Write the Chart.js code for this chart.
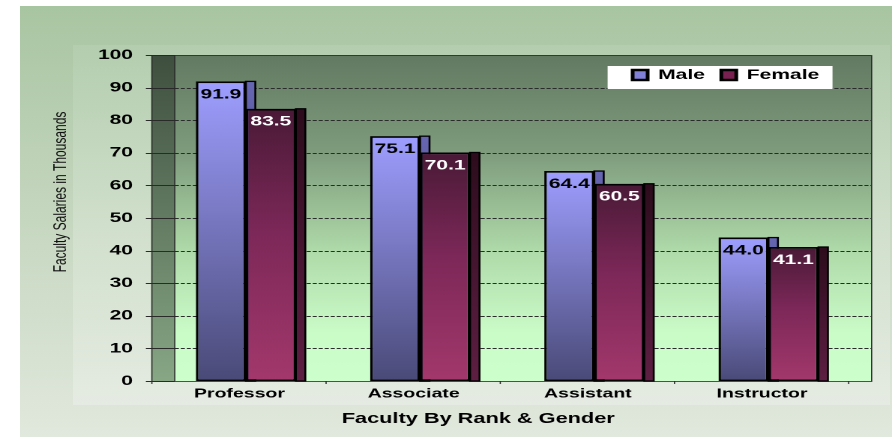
<!DOCTYPE html>
<html>
<head>
<meta charset="utf-8">
<script src="https://cdn.jsdelivr.net/npm/chart.js@4.4.0/dist/chart.umd.min.js"></script>
<style>
  html, body { margin: 0; padding: 0; background: #fff; width: 892px; height: 437px; overflow: hidden; }
  #card { position: absolute; left: 20px; top: 6px; width: 872px; height: 431px;
    background: linear-gradient(to bottom, #a8c5a1 0%, #c6d7c0 50%, #e1e8dd 100%); }
  #panel { position: absolute; left: 73px; top: 45px; width: 817px; height: 360px;
    background: linear-gradient(to bottom, #b3cdae 0%, #d0dfcb 50%, #e5ebe2 100%); }
  /* the original picture is a stretched Excel chart, so the canvas is stretched the same way */
  #chart { position: absolute; left: 0; top: 0; transform: scaleX(1.49916); transform-origin: 0 0; }
</style>
</head>
<body>
<div id="card"></div>
<div id="panel"></div>
<canvas id="chart" width="595" height="437"></canvas>
<script>
const ranks = ['Professor', 'Associate', 'Assistant', 'Instructor'];
const maleSalaries = [91.9, 75.1, 64.4, 44.0];
const femaleSalaries = [83.5, 70.1, 60.5, 41.1];
const seriesNames = ['Male', 'Female'];
const yTitle = 'Faculty Salaries in Thousands';
const xTitle = 'Faculty By Rank & Gender';

const FONT = "'Liberation Sans', Arial, sans-serif";
Chart.defaults.font.family = FONT;

// colour stops, top of bar -> bottom of bar
const maleStops = [[0, '#9e9eff'], [1, '#4a4a78']];
const femaleStops = [[0, '#4a1a37'], [0.45, '#7c2858'], [1, '#a3386c']];
const maleSideStops = [[0, '#6666b3'], [1, '#30305a']];
const femaleSideStops = [[0, '#2d0c1d'], [1, '#5e1f43']];
const legendFill = ['#8080d8', '#7a2050'];
const labelColor = ['#000', '#fff'];

const DEPTH = 15.3;   // depth of the 3d walls (canvas px)
const FRONT = 4.6;    // front edge of the floor sits left of the category grid
const SIDE = 6.3;     // width of the side face of each bar

function vGrad(ctx, top, bottom, stops) {
    const g = ctx.createLinearGradient(0, top, 0, bottom);
    stops.forEach(([o, c]) => g.addColorStop(o, c));
    return g;
}

function barFill(stops) {
    return c => {
        const chart = c.chart;
        if (!chart.chartArea || c.type !== 'data') return stops[stops.length - 1][1];
        const y = chart.scales.y;
        const top = y.getPixelForValue(chart.data.datasets[c.datasetIndex].data[c.dataIndex]);
        return vGrad(chart.ctx, top, y.getPixelForValue(0), stops);
    };
}

const walls = {
    id: 'walls',
    afterLayout(chart) {
        // legend sits inside the plot, top right
        const lg = chart.legend;
        lg.left = 411; lg.right = 611; lg.top = 57; lg.bottom = 117;
        lg.width = 200; lg.height = 60;
    },
    beforeDraw(chart) {
        const {ctx, chartArea: a, scales: {x, y}} = chart;
        const fl = a.left - FRONT, fr = a.right - FRONT;
        const bl = fl + DEPTH, br = fr + DEPTH;
        const h = a.bottom - a.top;
        ctx.save();
        ctx.fillStyle = vGrad(ctx, a.top, a.bottom,
            [[0, '#627a62'], [0.3, '#7f9c7d'], [0.6, '#afdaa9'], [0.85, '#cafcc8'], [1, '#ccffcc']]);
        ctx.fillRect(bl, a.top, br - bl, h);
        ctx.fillStyle = vGrad(ctx, a.top, a.bottom, [[0, '#3f4f3f'], [1, '#87a785']]);
        ctx.fillRect(fl, a.top, DEPTH, h);

        ctx.strokeStyle = '#2a2a2a';
        ctx.lineWidth = 1;
        y.ticks.forEach(t => {
            const py = Math.round(y.getPixelForValue(t.value)) + 0.5;
            ctx.setLineDash([]);
            ctx.beginPath(); ctx.moveTo(fl - 4, py); ctx.lineTo(bl, py); ctx.stroke();
            if (t.value > y.min && t.value < y.max) {
                ctx.setLineDash([2.7, 1.3]);
                ctx.beginPath(); ctx.moveTo(bl, py); ctx.lineTo(br, py); ctx.stroke();
            }
        });
        ctx.setLineDash([]);
        ctx.lineWidth = 0.8;
        ctx.strokeRect(fl, a.top + 0.5, br - fl, h);
        ctx.beginPath(); ctx.moveTo(bl, a.top); ctx.lineTo(bl, a.bottom); ctx.stroke();

        // category tick marks under the floor
        const cw = (a.right - a.left) / ranks.length;
        for (let i = 0; i <= ranks.length; i++) {
            const px = x.getPixelForValue(0) - cw / 2 + i * cw - FRONT;
            ctx.beginPath(); ctx.moveTo(px, a.bottom); ctx.lineTo(px, a.bottom + 3); ctx.stroke();
        }

        // white legend box
        const lg = chart.legend;
        ctx.fillStyle = '#fff';
        ctx.fillRect(lg.left - 5.7, lg.top + 9, 150, 23);
        ctx.restore();
    },
    beforeDatasetsDraw(chart) {
        const ctx = chart.ctx;
        const sideStops = [maleSideStops, femaleSideStops];
        ctx.save();
        ctx.strokeStyle = '#000';
        ctx.lineWidth = 1.3;
        chart.data.datasets.forEach((ds, di) => {
            chart.getDatasetMeta(di).data.forEach(bar => {
                const xr = bar.x + bar.width / 2;
                ctx.fillStyle = vGrad(ctx, bar.y, bar.base, sideStops[di]);
                ctx.fillRect(xr, bar.y, SIDE, bar.base - bar.y);
                ctx.strokeRect(xr, bar.y, SIDE, bar.base - bar.y);
            });
        });
        ctx.restore();
    },
    afterDatasetsDraw(chart) {
        const ctx = chart.ctx;
        ctx.save();
        ctx.font = 'bold 14px ' + FONT;
        ctx.textAlign = 'center';
        ctx.textBaseline = 'middle';
        chart.data.datasets.forEach((ds, di) => {
            chart.getDatasetMeta(di).data.forEach((bar, i) => {
                ctx.fillStyle = labelColor[di];
                ctx.fillText(ds.data[i].toFixed(1), bar.x, bar.y + 13);
            });
        });
        ctx.restore();
    },
    afterDraw(chart) {
        const ctx = chart.ctx;
        ctx.save();
        ctx.fillStyle = '#000';
        ctx.textAlign = 'center';
        ctx.textBaseline = 'alphabetic';
        ctx.font = 'bold 14.5px ' + FONT;
        ctx.fillText(xTitle, 319, 423);
        ctx.translate(44, 192);
        ctx.rotate(-Math.PI / 2);
        ctx.font = '12px ' + FONT;
        ctx.fillStyle = '#111';
        ctx.fillText(yTitle, 0, 0);
        ctx.restore();
    }
};

new Chart(document.getElementById('chart'), {
    type: 'bar',
    data: {
        labels: ranks,
        datasets: [
            {
                label: seriesNames[0],
                data: maleSalaries,
                backgroundColor: barFill(maleStops),
                borderColor: '#000',
                borderWidth: 1.7,
                borderSkipped: false,
                categoryPercentage: 0.574,
                barPercentage: 1.0
            },
            {
                label: seriesNames[1],
                data: femaleSalaries,
                backgroundColor: barFill(femaleStops),
                borderColor: '#000',
                borderWidth: 1.7,
                borderSkipped: false,
                categoryPercentage: 0.574,
                barPercentage: 1.0
            }
        ]
    },
    options: {
        responsive: false,
        animation: false,
        devicePixelRatio: 2,
        layout: { padding: { left: 0, right: 24.3, top: 55, bottom: 0 } },
        scales: {
            x: {
                grid: { display: false, drawTicks: false },
                border: { display: false },
                ticks: { color: '#000', font: { size: 13, weight: 'bold' }, padding: 5, labelOffset: -4.3 },
                afterFit(s) { s.height = 56; }
            },
            y: {
                min: 0,
                max: 100,
                grid: { display: false, drawTicks: false },
                border: { display: false },
                ticks: { stepSize: 10, color: '#000', font: { size: 14, weight: 'bold' }, padding: 17.2 },
                afterFit(s) { s.width = 105.9; }
            }
        },
        plugins: {
            legend: {
                position: 'top',
                align: 'start',
                maxHeight: 0.001,
                labels: {
                    boxWidth: 10,
                    boxHeight: 10,
                    padding: 11,
                    color: '#000',
                    font: { size: 14, weight: 'bold' },
                    generateLabels: chart => chart.data.datasets.map((ds, i) => ({
                        text: ds.label,
                        fillStyle: legendFill[i],
                        strokeStyle: '#000',
                        lineWidth: 2.5,
                        hidden: false,
                        datasetIndex: i
                    }))
                }
            },
            tooltip: { enabled: false }
        }
    },
    plugins: [walls]
});
</script>
</body>
</html>
